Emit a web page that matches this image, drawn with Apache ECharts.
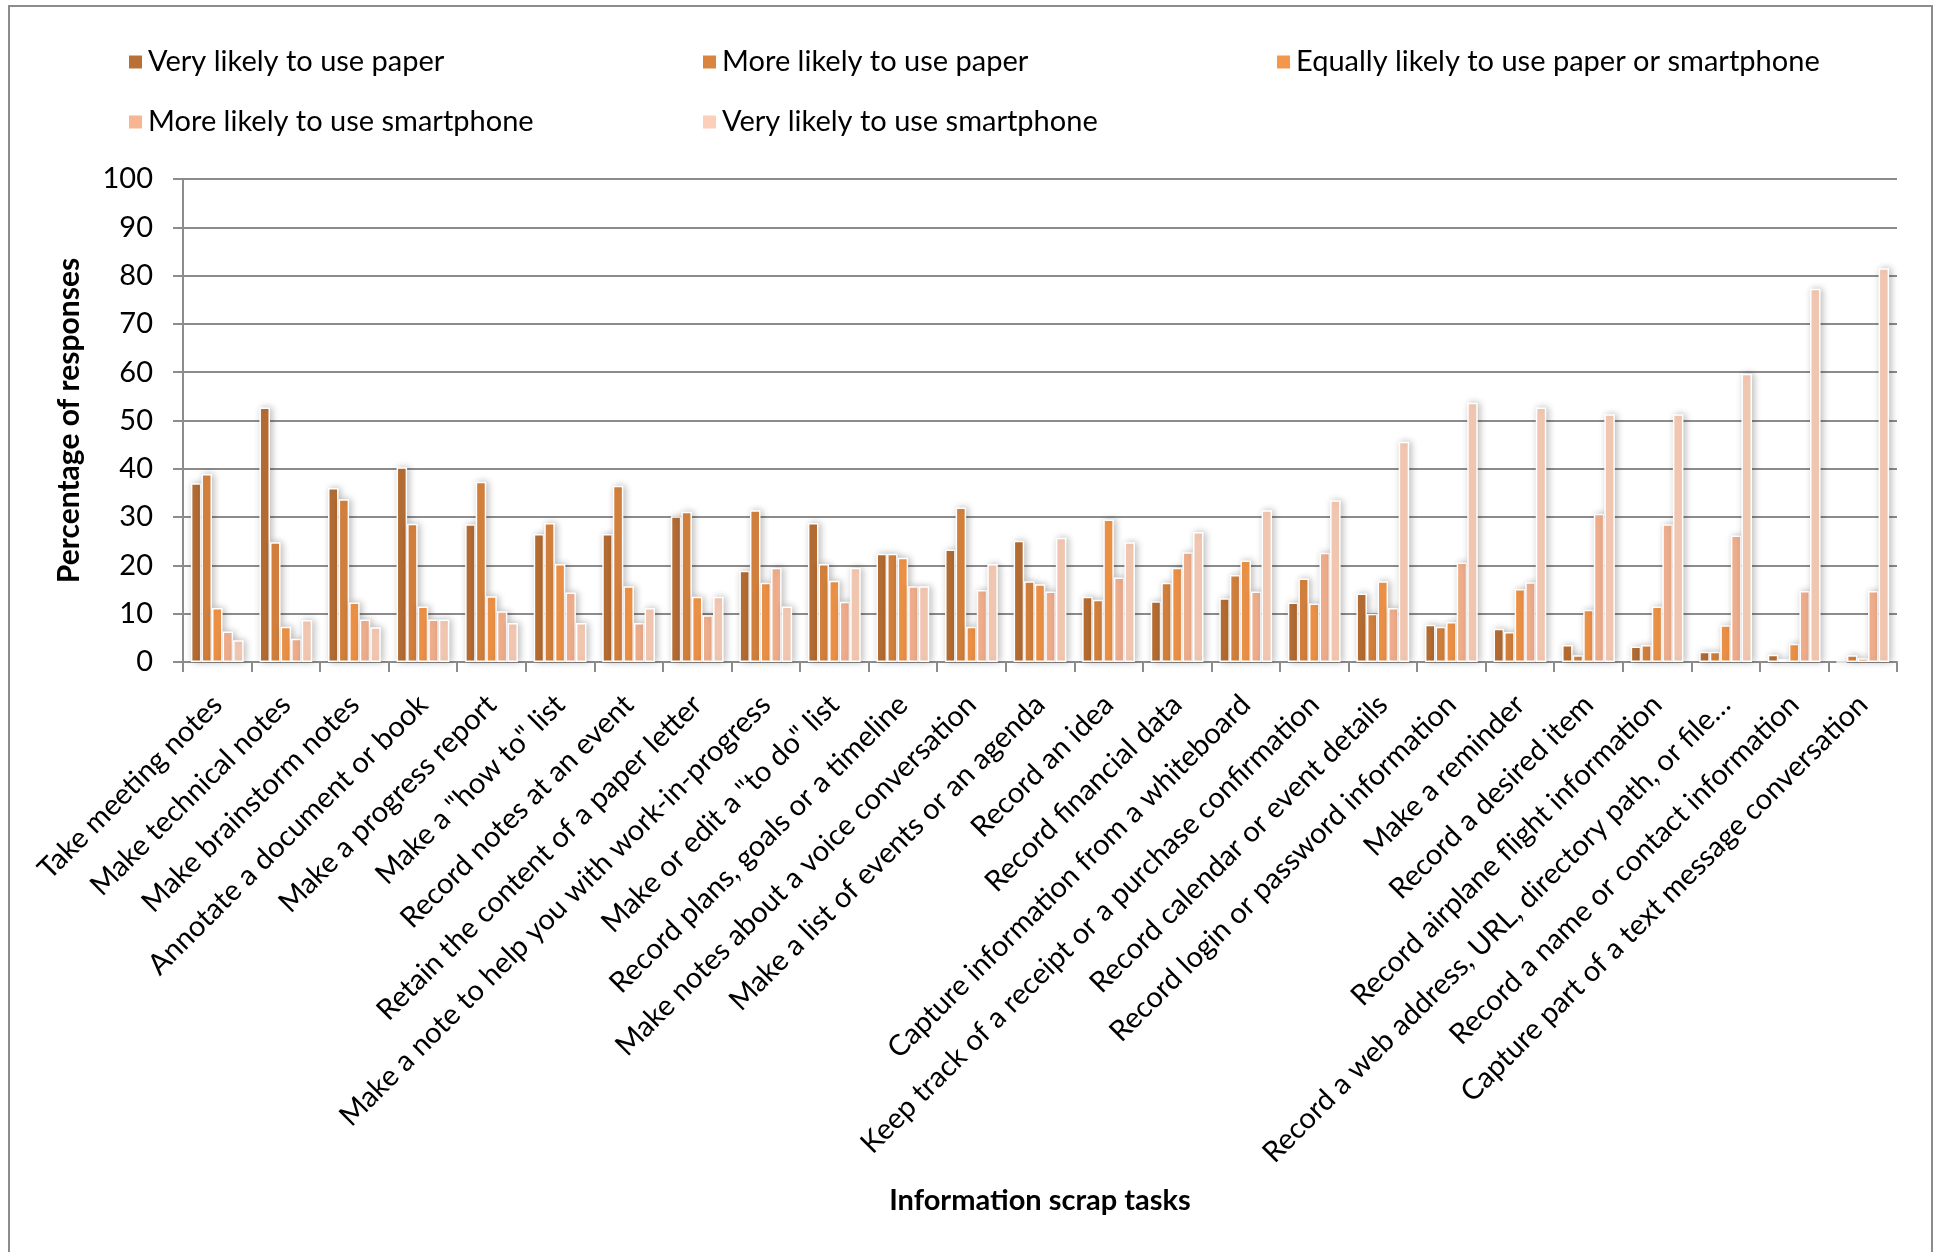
<!DOCTYPE html>
<html>
<head>
<meta charset="utf-8">
<title>Information scrap tasks</title>
<script src="https://cdn.jsdelivr.net/npm/echarts@6/dist/echarts.min.js"></script>
<style>
  html, body { margin: 0; padding: 0; background: #fff; }
  #chart { width: 1940px; height: 1252px; }
</style>
</head>
<body>
<div id="chart"></div>
<script>
// Tasks on the category axis
const categories = [
  'Take meeting notes',
  'Make technical notes',
  'Make brainstorm notes',
  'Annotate a document or book',
  'Make a progress report',
  'Make a "how to" list',
  'Record notes at an event',
  'Retain the content of a paper letter',
  'Make a note to help you with work-in-progress',
  'Make or edit a "to do" list',
  'Record plans, goals or a timeline',
  'Make notes about a voice conversation',
  'Make a list of events or an agenda',
  'Record an idea',
  'Record financial data',
  'Capture information from a whiteboard',
  'Keep track of a receipt or a purchase confirmation',
  'Record calendar or event details',
  'Record login or password information',
  'Make a reminder',
  'Record a desired item',
  'Record airplane flight information',
  'Record a web address, URL, directory path, or file\u2026',
  'Record a name or contact information',
  'Capture part of a text message conversation'
];

const seriesNames = [
  'Very likely to use paper',
  'More likely to use paper',
  'Equally likely to use paper or smartphone',
  'More likely to use smartphone',
  'Very likely to use smartphone'
];

// Percentage of responses per task
const veryLikelyPaper  = [37.0, 52.7, 36.0, 40.3, 28.5, 26.5, 26.5, 30.2, 18.9, 28.8, 22.4, 23.3, 25.1, 13.5, 12.6, 13.2, 12.3, 14.2, 7.7, 6.9, 3.5, 3.2, 2.1, 1.5, 0];
const moreLikelyPaper  = [38.9, 24.8, 33.7, 28.6, 37.3, 28.8, 36.5, 31.1, 31.4, 20.3, 22.4, 32.0, 16.7, 12.9, 16.4, 18.0, 17.3, 10.0, 7.3, 6.2, 1.4, 3.5, 2.1, 0.6, 1.4];
const equallyLikely    = [11.2, 7.3, 12.3, 11.5, 13.6, 20.3, 15.7, 13.5, 16.4, 16.8, 21.6, 7.3, 16.1, 29.5, 19.5, 21.0, 12.1, 16.7, 8.3, 15.1, 10.8, 11.5, 7.6, 3.8, 0.8];
const moreLikelyPhone  = [6.3, 4.8, 8.8, 8.8, 10.5, 14.4, 8.1, 9.7, 19.5, 12.5, 15.7, 14.9, 14.6, 17.5, 22.7, 14.6, 22.6, 11.2, 20.6, 16.5, 30.7, 28.5, 26.2, 14.7, 14.7];
const veryLikelyPhone  = [4.5, 8.7, 7.2, 8.8, 8.1, 8.1, 11.2, 13.5, 11.5, 19.5, 15.7, 20.3, 25.7, 24.8, 26.9, 31.4, 33.5, 45.6, 53.7, 52.7, 51.3, 51.3, 59.7, 77.3, 81.5];

const seriesValues = [veryLikelyPaper, moreLikelyPaper, equallyLikely, moreLikelyPhone, veryLikelyPhone];
const colors = ['#BA7035', '#DA853F', '#F5974A', '#F8B592', '#FBCFB9'];

const FONT = 'Lato, "Open Sans", sans-serif';
const FS = 29;

const chart = echarts.init(document.getElementById('chart'), null, { renderer: 'canvas' });

const legendCommon = {
  top: 47,
  orient: 'vertical',
  icon: 'rect',
  itemWidth: 15,
  itemHeight: 15,
  itemGap: 30,
  padding: 0,
  selectedMode: false,
  textStyle: { fontFamily: FONT, fontSize: FS, color: '#000', lineHeight: 30 }
};

const option = {
  backgroundColor: '#fff',
  animation: false,
  color: colors,
  graphic: [{
    type: 'rect',
    shape: { x: 9, y: 6, width: 1923, height: 1270 },
    style: { fill: 'none', stroke: '#8c8c8c', lineWidth: 2 },
    silent: true
  }],
  legend: [
    Object.assign({ left: 127, data: [seriesNames[0], seriesNames[3]] }, legendCommon),
    Object.assign({ left: 701, data: [seriesNames[1], seriesNames[4]] }, legendCommon),
    Object.assign({ left: 1275, data: [seriesNames[2]] }, legendCommon)
  ],
  grid: { left: 183, right: 43, top: 179, bottom: 590, containLabel: false },
  xAxis: {
    type: 'category',
    data: categories,
    name: 'Information scrap tasks',
    nameLocation: 'middle',
    nameGap: 524,
    nameTextStyle: { fontFamily: FONT, fontSize: FS, fontWeight: 'bold', color: '#000' },
    axisLine: { lineStyle: { color: '#8c8c8c', width: 2 } },
    axisTick: { show: true, length: 10, lineStyle: { color: '#8c8c8c', width: 2 } },
    axisLabel: {
      interval: 0,
      rotate: 45,
      margin: 38,
      fontFamily: FONT,
      fontSize: FS,
      color: '#000'
    }
  },
  yAxis: {
    type: 'value',
    min: 0,
    max: 100,
    interval: 10,
    name: 'Percentage of responses',
    nameLocation: 'middle',
    nameGap: 99,
    nameTextStyle: { fontFamily: FONT, fontSize: 30, fontWeight: 'bold', color: '#000' },
    axisLine: { show: true, lineStyle: { color: '#8c8c8c', width: 2 } },
    axisTick: { show: true, length: 10, lineStyle: { color: '#8c8c8c', width: 2 } },
    axisLabel: { margin: 30, fontFamily: FONT, fontSize: FS, color: '#000' },
    splitLine: { show: true, lineStyle: { color: '#8c8c8c', width: 2 } }
  },
  series: seriesNames.map((name, i) => ({
    name: name,
    type: 'bar',
    data: seriesValues[i],
    barGap: '0%',
    barCategoryGap: '23%',
    itemStyle: {
      color: colors[i],
      borderColor: '#ffffff',
      borderWidth: 1.5,
      shadowColor: 'rgba(0,0,0,0.25)',
      shadowBlur: 7,
      shadowOffsetX: 2,
      shadowOffsetY: 0
    }
  }))
};

chart.setOption(option);
</script>
</body>
</html>
